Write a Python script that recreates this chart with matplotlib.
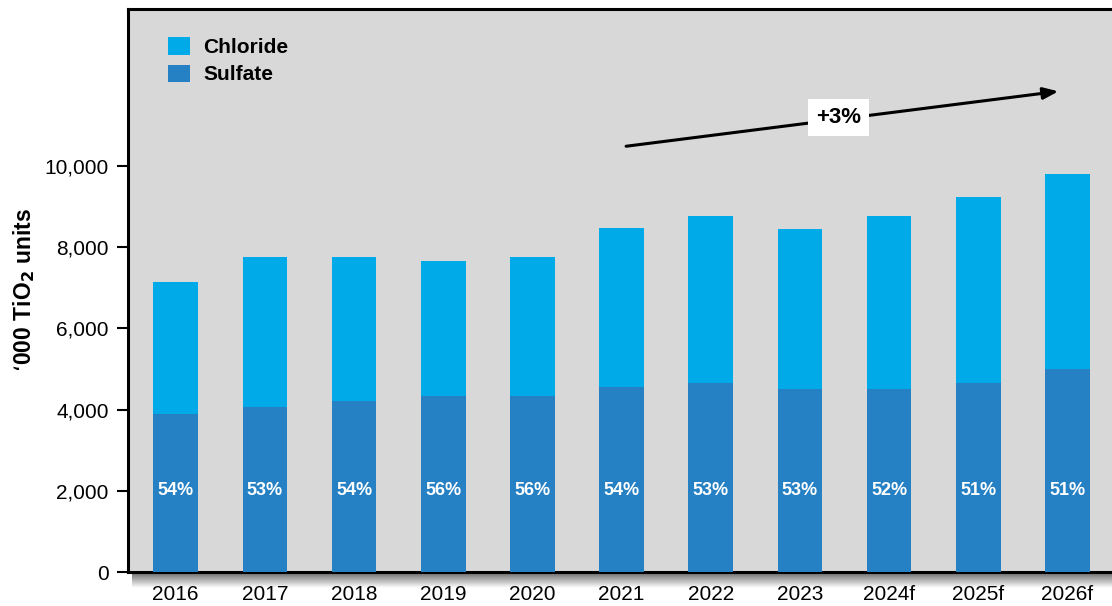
import matplotlib
matplotlib.use("Agg")
import matplotlib.pyplot as plt
import numpy as np
from matplotlib.patches import Patch

plt.rcParams['font.family'] = ['Liberation Sans', 'DejaVu Sans']

years = ["2016", "2017", "2018", "2019", "2020", "2021", "2022", "2023", "2024f", "2025f", "2026f"]
sulfate = [3900, 4070, 4220, 4330, 4330, 4560, 4660, 4500, 4500, 4660, 4990]
chloride = [3250, 3700, 3540, 3320, 3420, 3920, 4110, 3940, 4270, 4570, 4810]
share_labels = ["54%", "53%", "54%", "56%", "56%", "54%", "53%", "53%", "52%", "51%", "51%"]
yticks = [0, 2000, 4000, 6000, 8000, 10000]
growth_label = "+3%"

c_chl = "#00A9E8"
c_sul = "#2581C4"
bg = "#D8D8D8"

W, H = 1112, 606
fig = plt.figure(figsize=(W / 100, H / 100), dpi=100)
fig.patch.set_facecolor("white")

left_px, right_px, top_px, bot_px = 128, 1112, 9, 572
ax = fig.add_axes([left_px / W, 1 - bot_px / H, (right_px - left_px) / W, (bot_px - top_px) / H])
ax.set_facecolor(bg)

# shadow under x axis
sh = fig.add_axes([132 / W, 1 - (bot_px + 16) / H, (W - 132) / W, 16 / H], zorder=-1)
grad = np.linspace(0.6, 0.0, 50).reshape(-1, 1)
sh.imshow(np.dstack([np.zeros((50, 1))] * 3 + [grad]), aspect="auto", extent=[0, 1, 0, 1])
sh.axis("off")

x = np.arange(len(years))
w = 0.5
ax.bar(x, sulfate, width=w, color=c_sul, zorder=3, label="Sulfate")
ax.bar(x, chloride, width=w, bottom=sulfate, color=c_chl, zorder=3, label="Chloride")

for xi, lab in zip(x, share_labels):
    ax.text(xi, 2020, lab, ha="center", va="center", color="white",
            fontsize=13, fontweight="bold", zorder=5)

ax.set_xlim(-0.535, 10.5)
ax.set_ylim(0, 13870)
ax.set_xticks(x)
ax.set_xticklabels(years, fontsize=15)
ax.set_yticks(yticks)
ax.set_yticklabels([f"{v:,}" for v in yticks], fontsize=15)
ax.tick_params(axis="x", length=0, pad=9)
ax.tick_params(axis="y", length=8, width=1.5, pad=6, direction="out")

for s in ["top", "left", "bottom"]:
    ax.spines[s].set_linewidth(2.2)
    ax.spines[s].set_color("black")
ax.spines["right"].set_visible(False)
ax.spines["bottom"].set_zorder(2)

ax.set_ylabel("\u2018000 TiO$_\\mathbf{2}$ units", fontsize=16.5, fontweight="bold", labelpad=5)

handles = [Patch(facecolor=c_chl, label="Chloride"), Patch(facecolor=c_sul, label="Sulfate")]
leg = ax.legend(handles=handles, loc="upper left", bbox_to_anchor=(0.041, 0.95),
                frameon=False, fontsize=15, handlelength=1.06, handleheight=0.91,
                handletextpad=0.62, labelspacing=0.36, borderpad=0, borderaxespad=0)
for t in leg.get_texts():
    t.set_fontweight("bold")

# growth arrow
ax.annotate("", xy=(9.93, 11850), xytext=(5.02, 10480),
            arrowprops=dict(arrowstyle="-|>,head_length=0.9,head_width=0.35", color="black", lw=2.2),
            zorder=6)
ax.text(7.43, 11200, growth_label, ha="center", va="center", fontsize=16, fontweight="bold",
        bbox=dict(boxstyle="square,pad=0.35", facecolor="white", edgecolor="none"), zorder=7)

fig.savefig("out.png", dpi=100, facecolor=fig.get_facecolor())
